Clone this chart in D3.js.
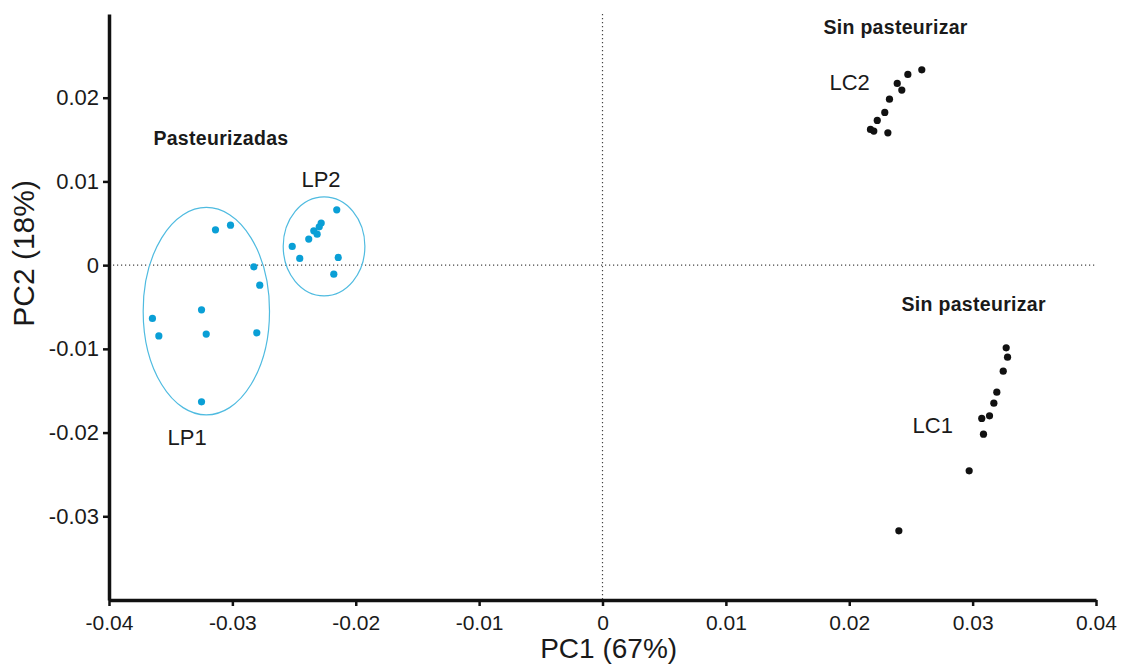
<!DOCTYPE html>
<html lang="es">
<head>
  <meta charset="utf-8">
  <title>PCA - leches pasteurizadas y sin pasteurizar</title>
  <style>
    body { margin: 0; background: #fff; }
    svg text { font-family: "Liberation Sans", Arial, sans-serif; fill: #1a1a1a; }
  </style>
</head>
<body>
  <script src="https://cdnjs.cloudflare.com/ajax/libs/d3/7.8.5/d3.min.js"></script>
  <script>
  // PC1 / PC2 scores
  const lp1X = [-0.03137, -0.03015, -0.02826, -0.02778, -0.0325, -0.03648, -0.03596, -0.03212, -0.02802, -0.0325];
  const lp1Y = [0.00422, 0.00478, -0.0002, -0.00239, -0.00534, -0.00637, -0.00845, -0.00824, -0.00809, -0.01633];
  const lp2X = [-0.02154, -0.0228, -0.02296, -0.0234, -0.02313, -0.02381, -0.02515, -0.02454, -0.02142, -0.02178];
  const lp2Y = [0.00661, 0.00502, 0.00458, 0.0041, 0.0037, 0.00311, 0.00224, 0.0008, 0.00092, -0.00108];
  const lc2X = [0.02588, 0.02475, 0.02389, 0.02426, 0.02326, 0.02288, 0.02227, 0.02172, 0.02199, 0.02313];
  const lc2Y = [0.02333, 0.02278, 0.02171, 0.02091, 0.01983, 0.01824, 0.01729, 0.01621, 0.01601, 0.0158];
  const lc1X = [0.03272, 0.03283, 0.03248, 0.03196, 0.03172, 0.03137, 0.03074, 0.03088, 0.02972, 0.02402];
  const lc1Y = [-0.00988, -0.01099, -0.01266, -0.01517, -0.01649, -0.018, -0.01831, -0.02019, -0.02457, -0.03174];

  // group ellipses: centre and radii in data units
  const ellipseCx = [-0.03211, -0.02257];
  const ellipseCy = [-0.0055, 0.00225];
  const ellipseRx = [0.00512, 0.00331];
  const ellipseRy = [0.01239, 0.00591];

  const xTicks = [-0.04, -0.03, -0.02, -0.01, 0, 0.01, 0.02, 0.03, 0.04];
  const yTicks = [-0.03, -0.02, -0.01, 0, 0.01, 0.02];

  // annotations (text, x, y, bold)
  const noteText = ["Pasteurizadas", "Sin pasteurizar", "Sin pasteurizar", "LP1", "LP2", "LC2", "LC1"];
  const noteX = [-0.0364, 0.01791, 0.02424, -0.03525, -0.0244, 0.0184, 0.02513];
  const noteY = [0.01493, 0.02819, -0.0049, -0.02079, 0.01003, 0.02162, -0.01935];
  const noteBold = [true, true, true, false, false, false, false];

  const W = 1126, H = 666;
  const margin = { top: 14, right: 30, bottom: 66, left: 109 };

  const blue = "#0a9fd6", ring = "#4fbbe0", black = "#111";

  const svg = d3.select("body").append("svg")
    .attr("width", W)
    .attr("height", H);

  const x = d3.scaleLinear()
    .domain([-0.04, 0.04])
    .range([margin.left, 1096]);

  const y = d3.scaleLinear()
    .domain([-0.04, 0.03])
    .range([600, margin.top]);

  // plain hyphen for negatives, as in the original
  const fmt = d => d === 0 ? "0" : d.toFixed(2);

  // zero reference lines
  svg.append("line")
    .attr("x1", x(-0.04)).attr("x2", x(0.04))
    .attr("y1", y(0)).attr("y2", y(0))
    .attr("stroke", "#444").attr("stroke-width", 1.2)
    .attr("stroke-dasharray", "1.2,2.8");
  svg.append("line")
    .attr("x1", x(0)).attr("x2", x(0))
    .attr("y1", y(0.03)).attr("y2", y(-0.04))
    .attr("stroke", "#444").attr("stroke-width", 1.2)
    .attr("stroke-dasharray", "1.2,2.8");

  // axes
  const xAxis = svg.append("g")
    .attr("transform", `translate(0, ${y(-0.04)})`)
    .call(d3.axisBottom(x).tickValues(xTicks).tickFormat(fmt).tickSizeInner(6).tickSizeOuter(0).tickPadding(9));

  const yAxis = svg.append("g")
    .attr("transform", `translate(${x(-0.04)}, 0)`)
    .call(d3.axisLeft(y).tickValues(yTicks).tickFormat(fmt).tickSizeInner(6).tickSizeOuter(0).tickPadding(4));

  [xAxis, yAxis].forEach(g => {
    g.select(".domain").attr("stroke", black).attr("stroke-width", 3.5);
    g.selectAll(".tick line").attr("stroke", black).attr("stroke-width", 2.5);
    g.selectAll(".tick text").attr("fill", "#1a1a1a")
      .attr("font-family", "'Liberation Sans', Arial, sans-serif");
  });
  xAxis.selectAll(".tick text").attr("font-size", 21);
  yAxis.selectAll(".tick text").attr("font-size", 22);

  // axis titles
  svg.append("text")
    .attr("x", x(0.0005))
    .attr("y", 651)
    .attr("text-anchor", "middle")
    .attr("dominant-baseline", "middle")
    .style("font-size", "28px")
    .text("PC1 (67%)");

  svg.append("text")
    .attr("transform", `translate(26, ${y(0.0014)}) rotate(-90)`)
    .attr("text-anchor", "middle")
    .attr("dominant-baseline", "middle")
    .style("font-size", "30px")
    .text("PC2 (18%)");

  // ellipses
  svg.selectAll(".ring")
    .data(d3.range(ellipseCx.length))
    .enter()
    .append("ellipse")
    .attr("class", "ring")
    .attr("cx", i => x(ellipseCx[i]))
    .attr("cy", i => y(ellipseCy[i]))
    .attr("rx", i => x(ellipseCx[i] + ellipseRx[i]) - x(ellipseCx[i]))
    .attr("ry", i => y(ellipseCy[i]) - y(ellipseCy[i] + ellipseRy[i]))
    .attr("fill", "none")
    .attr("stroke", ring)
    .attr("stroke-width", 1.2);

  // points
  const groups = [
    { xs: lp1X, ys: lp1Y, color: blue },
    { xs: lp2X, ys: lp2Y, color: blue },
    { xs: lc2X, ys: lc2Y, color: black },
    { xs: lc1X, ys: lc1Y, color: black }
  ];

  groups.forEach(g => {
    svg.append("g")
      .selectAll("circle")
      .data(g.xs.map((v, i) => [v, g.ys[i]]))
      .enter()
      .append("circle")
      .attr("r", 3.6)
      .attr("cx", d => x(d[0]))
      .attr("cy", d => y(d[1]))
      .attr("fill", g.color);
  });

  // annotations
  svg.selectAll(".note")
    .data(noteText.map((t, i) => i))
    .enter()
    .append("text")
    .attr("class", "note")
    .attr("x", i => x(noteX[i]))
    .attr("y", i => y(noteY[i]))
    .attr("dominant-baseline", "middle")
    .style("font-size", i => noteBold[i] ? "19.5px" : "22px")
    .style("letter-spacing", i => noteBold[i] ? "0.3px" : "0")
    .style("font-weight", i => noteBold[i] ? "bold" : "normal")
    .text(i => noteText[i]);
  </script>
</body>
</html>
